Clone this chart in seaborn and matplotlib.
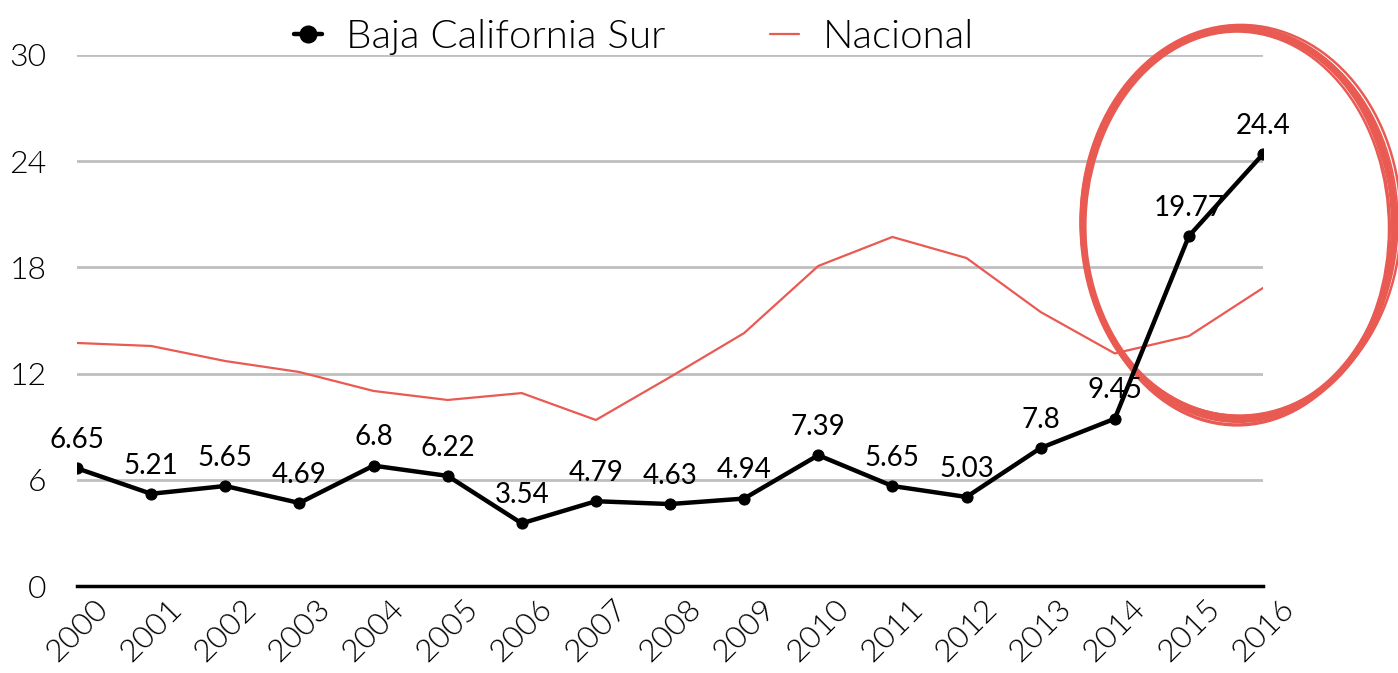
import numpy as np
import pandas as pd
import seaborn as sns
import matplotlib.pyplot as plt
from matplotlib.patches import Ellipse
from matplotlib.lines import Line2D

# datos
anios = ['2000', '2001', '2002', '2003', '2004', '2005', '2006', '2007', '2008',
         '2009', '2010', '2011', '2012', '2013', '2014', '2015', '2016']
bcs = [6.65, 5.21, 5.65, 4.69, 6.8, 6.22, 3.54, 4.79, 4.63,
       4.94, 7.39, 5.65, 5.03, 7.8, 9.45, 19.77, 24.4]
bcs_etiquetas = ['6.65', '5.21', '5.65', '4.69', '6.8', '6.22', '3.54', '4.79', '4.63',
                 '4.94', '7.39', '5.65', '5.03', '7.8', '9.45', '19.77', '24.4']
nacional = [13.73, 13.56, 12.71, 12.09, 11.02, 10.51, 10.90, 9.38, 11.8,
            14.29, 18.08, 19.72, 18.53, 15.48, 13.14, 14.12, 16.84]
yticks = [0, 6, 12, 18, 24, 30]

sns.set_style('white')
plt.rcParams['font.family'] = ['Lato', 'DejaVu Sans']
plt.rcParams['text.color'] = 'black'
plt.rcParams['xtick.color'] = 'black'
plt.rcParams['ytick.color'] = 'black'

df = pd.DataFrame({'x': np.arange(len(anios)), 'bcs': bcs, 'nacional': nacional})

fig = plt.figure(figsize=(13.98, 6.73), dpi=100)
ax = fig.add_axes([77/1398, 1-586/673, (1263-77)/1398, (586-55)/673])

rojo = '#e95a52'
sns.lineplot(data=df, x='x', y='nacional', ax=ax, color=rojo, linewidth=1.6, zorder=3)
sns.lineplot(data=df, x='x', y='bcs', ax=ax, color='black', linewidth=3.2,
             marker='o', markersize=8, markeredgecolor='black', zorder=4)

# etiquetas de datos
for i, (v, t) in enumerate(zip(bcs, bcs_etiquetas)):
    ax.annotate(t, (i, v), xytext=(0, 11), textcoords='offset points',
                ha='center', va='bottom', fontsize=20, color='black', zorder=5)

ax.set_xlim(0, 16)
ax.set_ylim(0, 30)
ax.set_yticks(yticks)
ax.set_yticklabels([str(v) for v in yticks], fontsize=23, fontweight=300)
ax.set_xticks(df['x'])
ax.set_xticklabels(anios, rotation=45, ha='center', fontsize=23, fontweight=300)
ax.tick_params(axis='y', length=0, pad=22)
ax.tick_params(axis='x', length=0, pad=6)
ax.set_xlabel('')
ax.set_ylabel('')
ax.grid(axis='y', color='#bfbfbf', linewidth=2)
ax.set_axisbelow(True)
for s in ['top', 'right', 'left']:
    ax.spines[s].set_visible(False)
ax.spines['bottom'].set_color('black')
ax.spines['bottom'].set_linewidth(2.5)
ax.spines['bottom'].set_zorder(6)

# circulo rojo hecho "a mano": varios trazos casi iguales
trazos = [(0.0, 0.0, 0.0, 0.0, 5.0),
          (0.03, 0.2, 0.12, 0.0, 1.8),
          (-0.02, -0.25, -0.1, 0.15, 1.8),
          (0.01, 0.15, 0.08, -0.2, 1.2),
          (-0.02, -0.1, -0.07, 0.3, 1.2)]
for dx, dy, dw, dh, lw in trazos:
    ax.add_patch(Ellipse((15.67 + dx, 20.45 + dy), 4.2 + dw, 22.1 + dh, fill=False,
                         edgecolor=rojo, linewidth=lw, clip_on=False, zorder=2))

handles = [Line2D([], [], color='black', linewidth=3.2, marker='o', markersize=12),
           Line2D([], [], color=rojo, linewidth=1.6)]
fig.legend(handles, ['Baja California Sur', 'Nacional'], loc='center',
           bbox_to_anchor=(634/1398, 1-37/673), ncol=2, frameon=False,
           prop={'size': 29, 'weight': 300}, handlelength=0.7,
           columnspacing=2.6, handletextpad=0.6)

fig.savefig('out.png', dpi=100)
